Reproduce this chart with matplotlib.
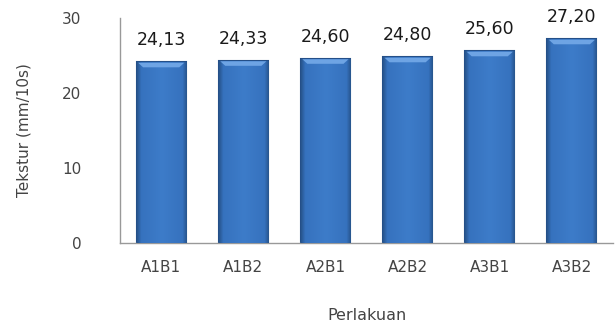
import numpy as np
import matplotlib.pyplot as plt
from matplotlib.colors import LinearSegmentedColormap

perlakuan = ["A1B1", "A1B2", "A2B1", "A2B2", "A3B1", "A3B2"]
tekstur = [24.13, 24.33, 24.60, 24.80, 25.60, 27.20]
label_tekstur = ["24,13", "24,33", "24,60", "24,80", "25,60", "27,20"]

fig = plt.figure(figsize=(6.16, 3.28), dpi=100)
ax = fig.add_axes([0.195, 0.259, 0.80, 0.686])

x = np.arange(len(perlakuan))
bars = ax.bar(x, tekstur, width=0.6, color="#3A77C4", edgecolor="#244F88", linewidth=1.5, zorder=2)

# mostly flat fill with darker rims on the sides
shade = LinearSegmentedColormap.from_list(
    "shade", [(0, "#28568F"), (0.08, "#3672BE"), (0.5, "#3D7CC9"), (0.92, "#3672BE"), (1, "#28568F")])
grad = np.linspace(0, 1, 64).reshape(1, -1)
for b in bars:
    bx, bw, bh = b.get_x(), b.get_width(), b.get_height()
    im = ax.imshow(grad, cmap=shade, aspect="auto", extent=(bx, bx + bw, 0, bh), zorder=3)
    im.set_clip_path(b)
    # lighter bevel along the top edge
    ax.fill([bx + 0.02, bx + bw - 0.02, bx + bw - 0.08, bx + 0.08],
            [bh - 0.1, bh - 0.1, bh - 0.7, bh - 0.7], color="#6EA4E4", zorder=4, linewidth=0)

for xi, v, lab in zip(x, tekstur, label_tekstur):
    ax.text(xi, v + 2.9, lab, ha="center", va="center", fontsize=12.5, color="#1a1a1a")

ax.set_xlim(-0.5, len(perlakuan) - 0.5)
ax.set_ylim(0, 30)
ax.set_yticks([0, 10, 20, 30])
ax.set_xticks(x)
ax.set_xticklabels(perlakuan)
ax.tick_params(axis="both", length=0, labelsize=11, labelcolor="#444444")
ax.tick_params(axis="y", pad=28)
ax.tick_params(axis="x", pad=12)

for s in ["top", "right"]:
    ax.spines[s].set_visible(False)
for s in ["left", "bottom"]:
    ax.spines[s].set_color("#999999")
    ax.spines[s].set_linewidth(1.0)

ax.set_ylabel("Tekstur (mm/10s)", fontsize=11, color="#444444", labelpad=22)
ax.set_xlabel("Perlakuan", fontsize=11.5, color="#444444", labelpad=24)

fig.savefig("out.png", dpi=100)
